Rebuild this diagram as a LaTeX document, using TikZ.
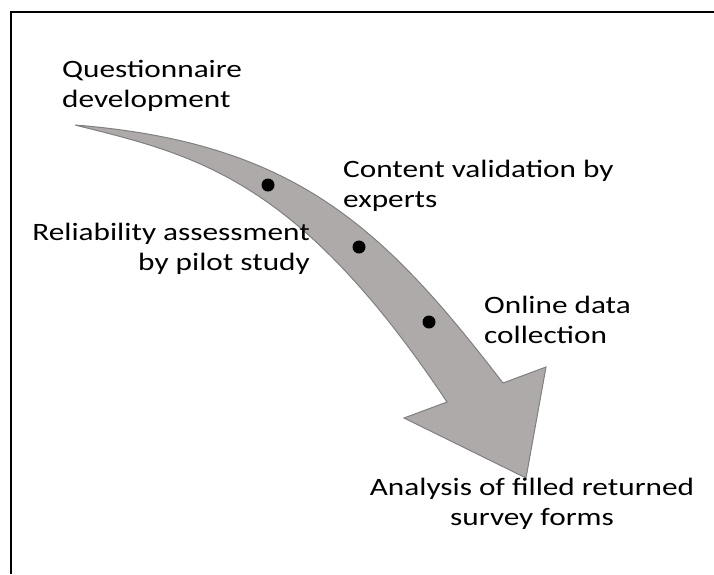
\documentclass[tikz,border=0pt]{standalone}
\usepackage{fontspec}
\setmainfont{Carlito}[FakeStretch=1.25]
\definecolor{arrowfill}{RGB}{174,170,170}
\definecolor{arrowline}{RGB}{128,128,128}
\begin{document}
\begin{tikzpicture}[x=1pt,y=-1pt,
  label/.style={inner sep=0pt, font=\fontsize{25}{29.5}\selectfont},
  dot/.style={circle, fill=black, inner sep=0pt, minimum size=13pt}]
\useasboundingbox (0,0) rectangle (714,574);
% frame
\draw[line width=2pt] (11,574) -- (11,12) -- (714,12);
% curved process arrow
\draw[fill=arrowfill, draw=arrowline, line width=1pt, line join=miter]
  (75,125) .. controls (295,142.6) and (383,227) .. (503,383)
  -- (546,367) -- (526,478) -- (404,418) -- (447,402)
  .. controls (297,177) and (195,155) .. (75,125) -- cycle;
% stage markers
\node[dot] (d1) at (268,185) {};
\node[dot] (d2) at (359,247) {};
\node[dot] (d3) at (429,322) {};
% stage labels (anchored at the baseline of the last line)
\node[label, anchor=base west, align=left] (q) at (62,107) {Questionnaire\\development};
\node[label, anchor=base west, align=left] (c) at (343,207) {Content validation by\\experts};
\node[label, anchor=base east, align=right] (r) at (310,270) {Reliability assessment\\by pilot study};
\node[label, anchor=base west, align=left] (o) at (484,343) {Online data\\collection};
\node[label, anchor=base, align=center] (a) at (532,525) {Analysis of filled returned\\survey forms};
\end{tikzpicture}
\end{document}
